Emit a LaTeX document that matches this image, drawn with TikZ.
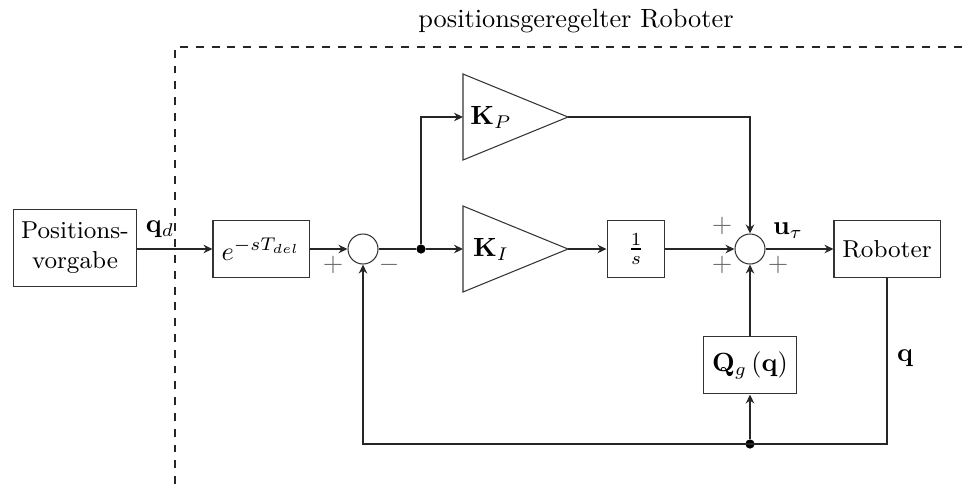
\documentclass[tikz,border=0pt]{standalone}
\usepackage{amsmath}
\usepackage{tikz}
\usetikzlibrary{arrows.meta, positioning, calc}
\tikzset{
  blockbox/.style={rectangle, draw=black!80, thin, fill=white, minimum width=#1, minimum height=22pt, inner sep=2pt, align=center},
  blockbox/.default=36.5pt,
  blocktext/.style={font=\fontsize{9.3}{11.4}\selectfont},
  sumnode/.style={circle, draw=black!80, thin, fill=white, minimum size=11.4pt, inner sep=0pt},
  gainline/.style={draw=black!80, thin},
  sigline/.style={thick, black!85},
  sigarrow/.style={-{Stealth[length=3.4pt, width=3.2pt]}, thick, black!85},
  sign/.style={text=black!60, inner sep=0pt},
  frameline/.style={thick, dashed, black!85},
  junction/.style={circle, fill=black, inner sep=0pt, minimum size=3.5pt},
}

\begin{document}
\begin{tikzpicture}[x=0.38pt, y=-0.38pt]
  \useasboundingbox (0,0) rectangle (968,484);

  % Regelkreis-Rahmen
  \draw[frameline] (175,484) -- (175,47) -- (964,47);
  \node (titel) at (576,21) {positionsgeregelter Roboter};

  % Bloecke
  \node[blockbox=47pt, minimum height=29.6pt, blocktext] (vorgabe) at (75,248) {Positions-\\vorgabe};
  \node[blockbox=36.5pt] (totzeit) at (261,249) {$e^{-sT_{del}}$};
  \node[sumnode] (sum1) at (363,249) {};
  \node[blockbox=22pt] (integ) at (636,249) {$\frac{1}{s}$};
  \node[sumnode] (sum2) at (750,249) {};
  \node[blockbox=40.3pt, blocktext] (roboter) at (887,249) {Roboter};
  \node[blockbox=35pt] (gravity) at (750,365) {$\mathbf{Q}_g\left(\mathbf{q}\right)$};

  % Verstaerker
  \draw[gainline] (463,74) coordinate (kpin) -- (568,117) coordinate (kpout) -- (463,160) -- cycle;
  \node (kp) at (491,117) {$\mathbf{K}_P$};
  \draw[gainline] (463,206) coordinate (kiin) -- (568,249) coordinate (kiout) -- (463,292) -- cycle;
  \node (ki) at (491,249) {$\mathbf{K}_I$};
  \coordinate (kpleft) at (463,117);
  \coordinate (kileft) at (463,249);

  % Verzweigungen
  \node[junction] (branch) at (421,249) {};
  \node[junction] (fbdot) at (750,444) {};
  \coordinate (fbright) at (887,444);
  \coordinate (fbleft) at (363,444);
  \coordinate (kpcorner) at (421,117);
  \coordinate (kpdown) at (750,117);
  \coordinate (vorgabeout) at (137,249);

  % Signale
  \draw[sigarrow] (vorgabeout) -- (totzeit.west);
  \draw[sigarrow] (totzeit.east) -- (sum1.west);
  \draw[sigline] (sum1.east) -- (branch);
  \draw[sigarrow] (branch) -- (kileft);
  \draw[sigarrow] (branch) -- (kpcorner) -- (kpleft);
  \draw[sigarrow] (kiout) -- (integ.west);
  \draw[sigarrow] (integ.east) -- (sum2.west);
  \draw[sigarrow] (kpout) -- (kpdown) -- (sum2.north);
  \draw[sigarrow] (sum2.east) -- (roboter.west);
  \draw[sigarrow] (roboter.south) -- (fbright) -- (fbleft) -- (sum1.south);
  \draw[sigarrow] (fbdot) -- (gravity.south);
  \draw[sigarrow] (gravity.north) -- (sum2.south);

  % Beschriftungen
  \node (qd) at (160,229) {$\mathbf{q}_d$};
  \node (utau) at (788,231) {$\mathbf{u}_\tau$};
  \node (q) at (905,358) {$\mathbf{q}$};
  \node[sign] (s1plus) at (333,265) {$+$};
  \node[sign] (s1minus) at (389,265) {$-$};
  \node[sign] (s2top) at (722,226) {$+$};
  \node[sign] (s2bot) at (722,265) {$+$};
  \node[sign] (s2right) at (778,265) {$+$};
\end{tikzpicture}
\end{document}
